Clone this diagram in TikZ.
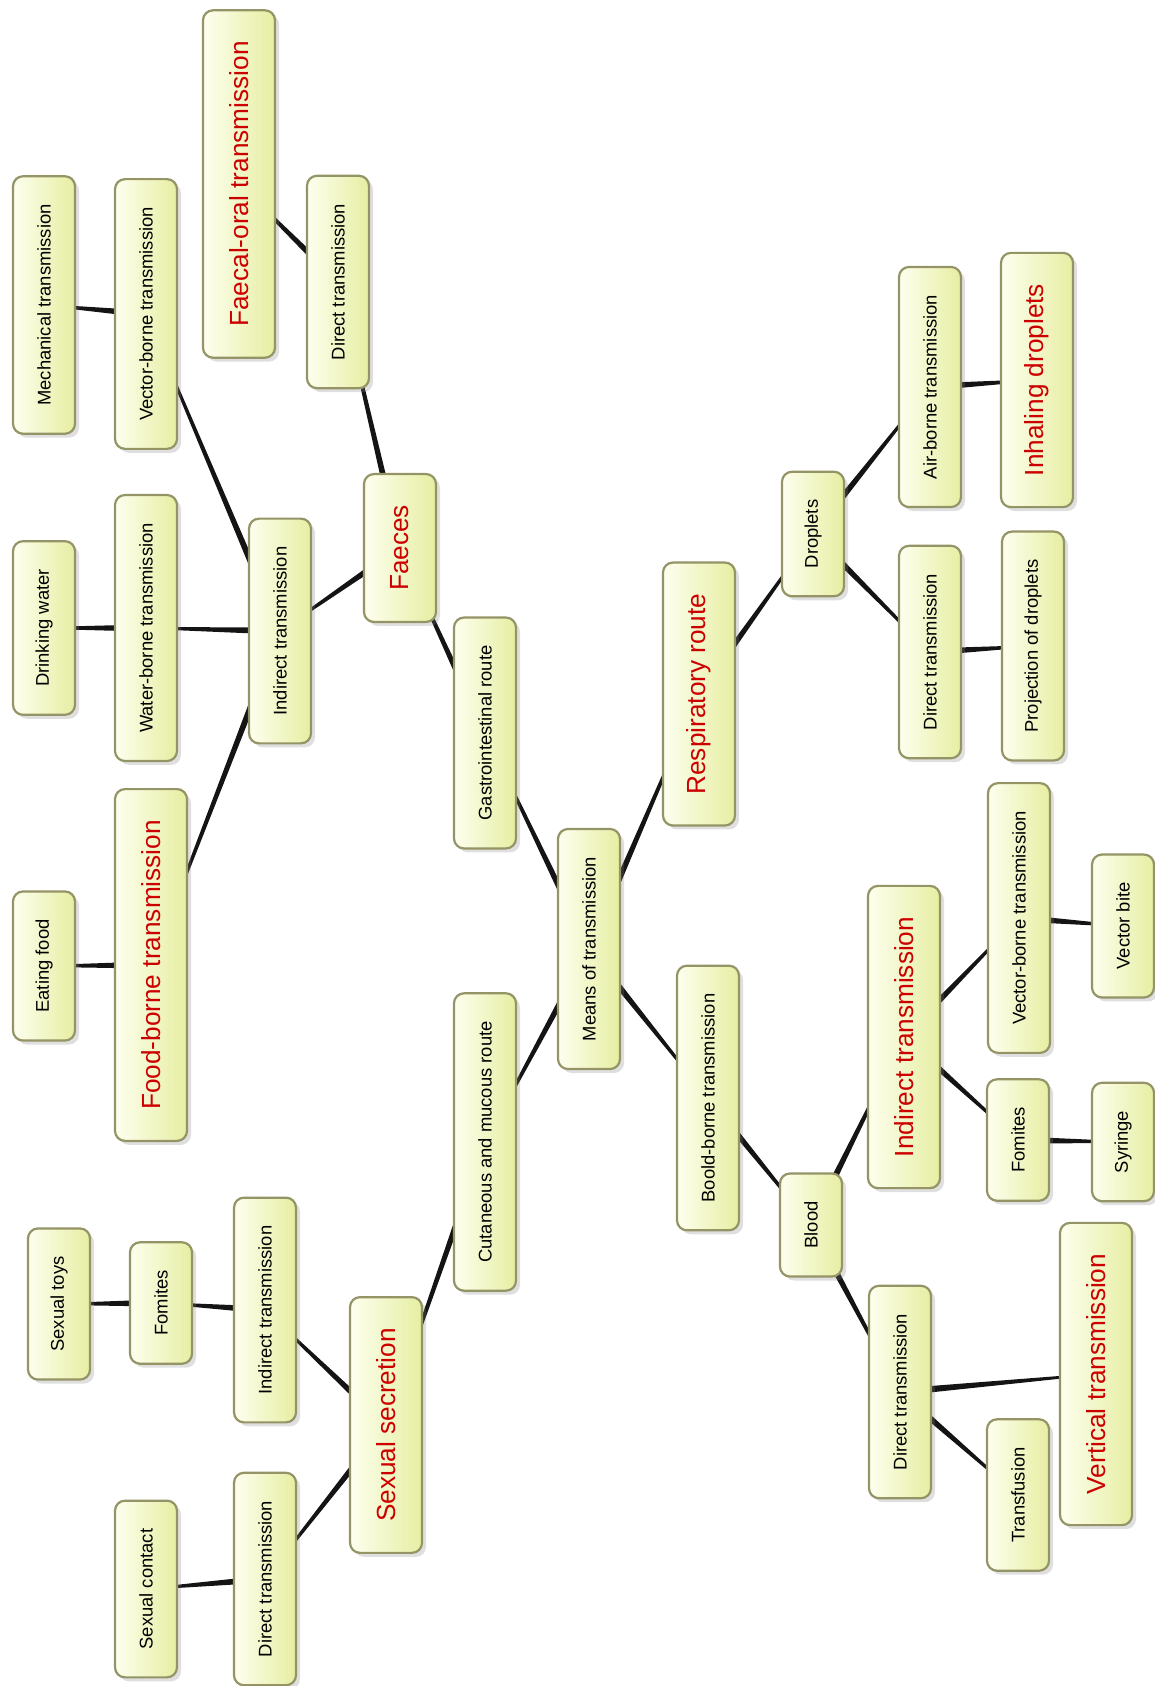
\documentclass[tikz,border=0pt]{standalone}
\usepackage{fontspec}
\setmainfont{Liberation Sans}
\usetikzlibrary{calc, shadows, backgrounds}
\definecolor{boxlight}{HTML}{FDFFEE}
\definecolor{boxfill}{HTML}{E6EEA2}
\definecolor{boxline}{HTML}{949466}
\definecolor{hotred}{HTML}{CC0000}
\definecolor{twig}{HTML}{141414}

\begin{document}
\begin{tikzpicture}[x=0.5pt, y=-0.5pt,
  bx/.style={draw=boxline, line width=1.1pt, rounded corners=5pt, rotate=90,
             left color=boxlight, right color=boxfill,
             drop shadow={opacity=0.25, shadow xshift=2pt, shadow yshift=-2pt},
             inner sep=0pt, inner xsep=14pt, minimum height=31pt,
             font=\fontsize{9.2}{11}\selectfont},
  key/.style={bx, inner xsep=15.5pt, minimum height=36pt, text=hotred,
              font=\fontsize{13.1}{15}\selectfont}]
\useasboundingbox (0,0) rectangle (1155,1686);
% Root and first level.
\node[bx] (means) at (589,949) {Means of transmission};
\node[bx] (gastro) at (485,733) {Gastrointestinal route};
\node[bx] (cutan) at (485,1142) {Cutaneous and mucous route};
\node[key] (resp) at (699,694) {Respiratory route};
\node[bx] (bloodb) at (708,1098) {Boold-borne transmission};
% Gastrointestinal branch (top left).
\node[key] (faeces) at (400,548) {Faeces};
\node[bx] (fdirect) at (338,282) {Direct transmission};
\node[key] (faecoral) at (239,184) {Faecal-oral transmission};
\node[bx] (findirect) at (280,631) {Indirect transmission};
\node[bx] (fvector) at (146,314) {Vector-borne transmission};
\node[bx] (mech) at (44,305) {Mechanical transmission};
\node[bx] (fwater) at (146,628) {Water-borne transmission};
\node[bx] (drink) at (44,628) {Drinking water};
\node[key] (ffood) at (151,965) {Food-borne transmission};
\node[bx] (eating) at (44,966) {Eating food};
% Respiratory branch (top right).
\node[bx] (droplets) at (813,534) {Droplets};
\node[bx] (airborne) at (930,387) {Air-borne transmission};
\node[key] (inhaling) at (1037,380) {Inhaling droplets};
\node[bx] (ddirect) at (930,652) {Direct transmission};
\node[bx] (projection) at (1033,646) {Projection of droplets};
% Blood-borne branch (bottom right).
\node[bx] (blood) at (811,1225) {Blood};
\node[key] (bindirect) at (904,1037) {Indirect transmission};
\node[bx] (bvector) at (1019,918) {Vector-borne transmission};
\node[bx] (bite) at (1123,926) {Vector bite};
\node[bx] (bfomites) at (1018,1140) {Fomites};
\node[bx] (syringe) at (1123,1142) {Syringe};
\node[bx] (bdirect) at (900,1392) {Direct transmission};
\node[bx] (transfusion) at (1018,1495) {Transfusion};
\node[key] (vertical) at (1096,1374) {Vertical transmission};
% Cutaneous branch (bottom left).
\node[key] (sexsec) at (386,1425) {Sexual secretion};
\node[bx] (sindirect) at (265,1310) {Indirect transmission};
\node[bx] (sfomites) at (161,1303) {Fomites};
\node[bx] (stoys) at (59,1304) {Sexual toys};
\node[bx] (sdirect) at (265,1579) {Direct transmission};
\node[bx] (scontact) at (146,1589) {Sexual contact};
% Tapered branches, thick at the parent end.
\begin{scope}[on background layer]
\foreach \p/\c in {means/gastro, means/cutan, means/resp, means/bloodb,
    gastro/faeces, faeces/fdirect, faeces/findirect, fdirect/faecoral,
    findirect/fvector, findirect/fwater, findirect/ffood,
    fvector/mech, fwater/drink, ffood/eating,
    resp/droplets, droplets/airborne, droplets/ddirect,
    airborne/inhaling, ddirect/projection,
    bloodb/blood, blood/bindirect, blood/bdirect,
    bindirect/bvector, bindirect/bfomites, bvector/bite, bfomites/syringe,
    bdirect/transfusion, bdirect/vertical,
    cutan/sexsec, sexsec/sindirect, sexsec/sdirect,
    sindirect/sfomites, sfomites/stoys, sdirect/scontact}
  \fill[twig] ($(\p.center)!1.8pt!90:(\c.center)$)
    -- ($(\c.center)!0.45pt!-90:(\p.center)$)
    -- ($(\c.center)!0.45pt!90:(\p.center)$)
    -- ($(\p.center)!1.8pt!-90:(\c.center)$) -- cycle;
\end{scope}
\end{tikzpicture}
\end{document}
